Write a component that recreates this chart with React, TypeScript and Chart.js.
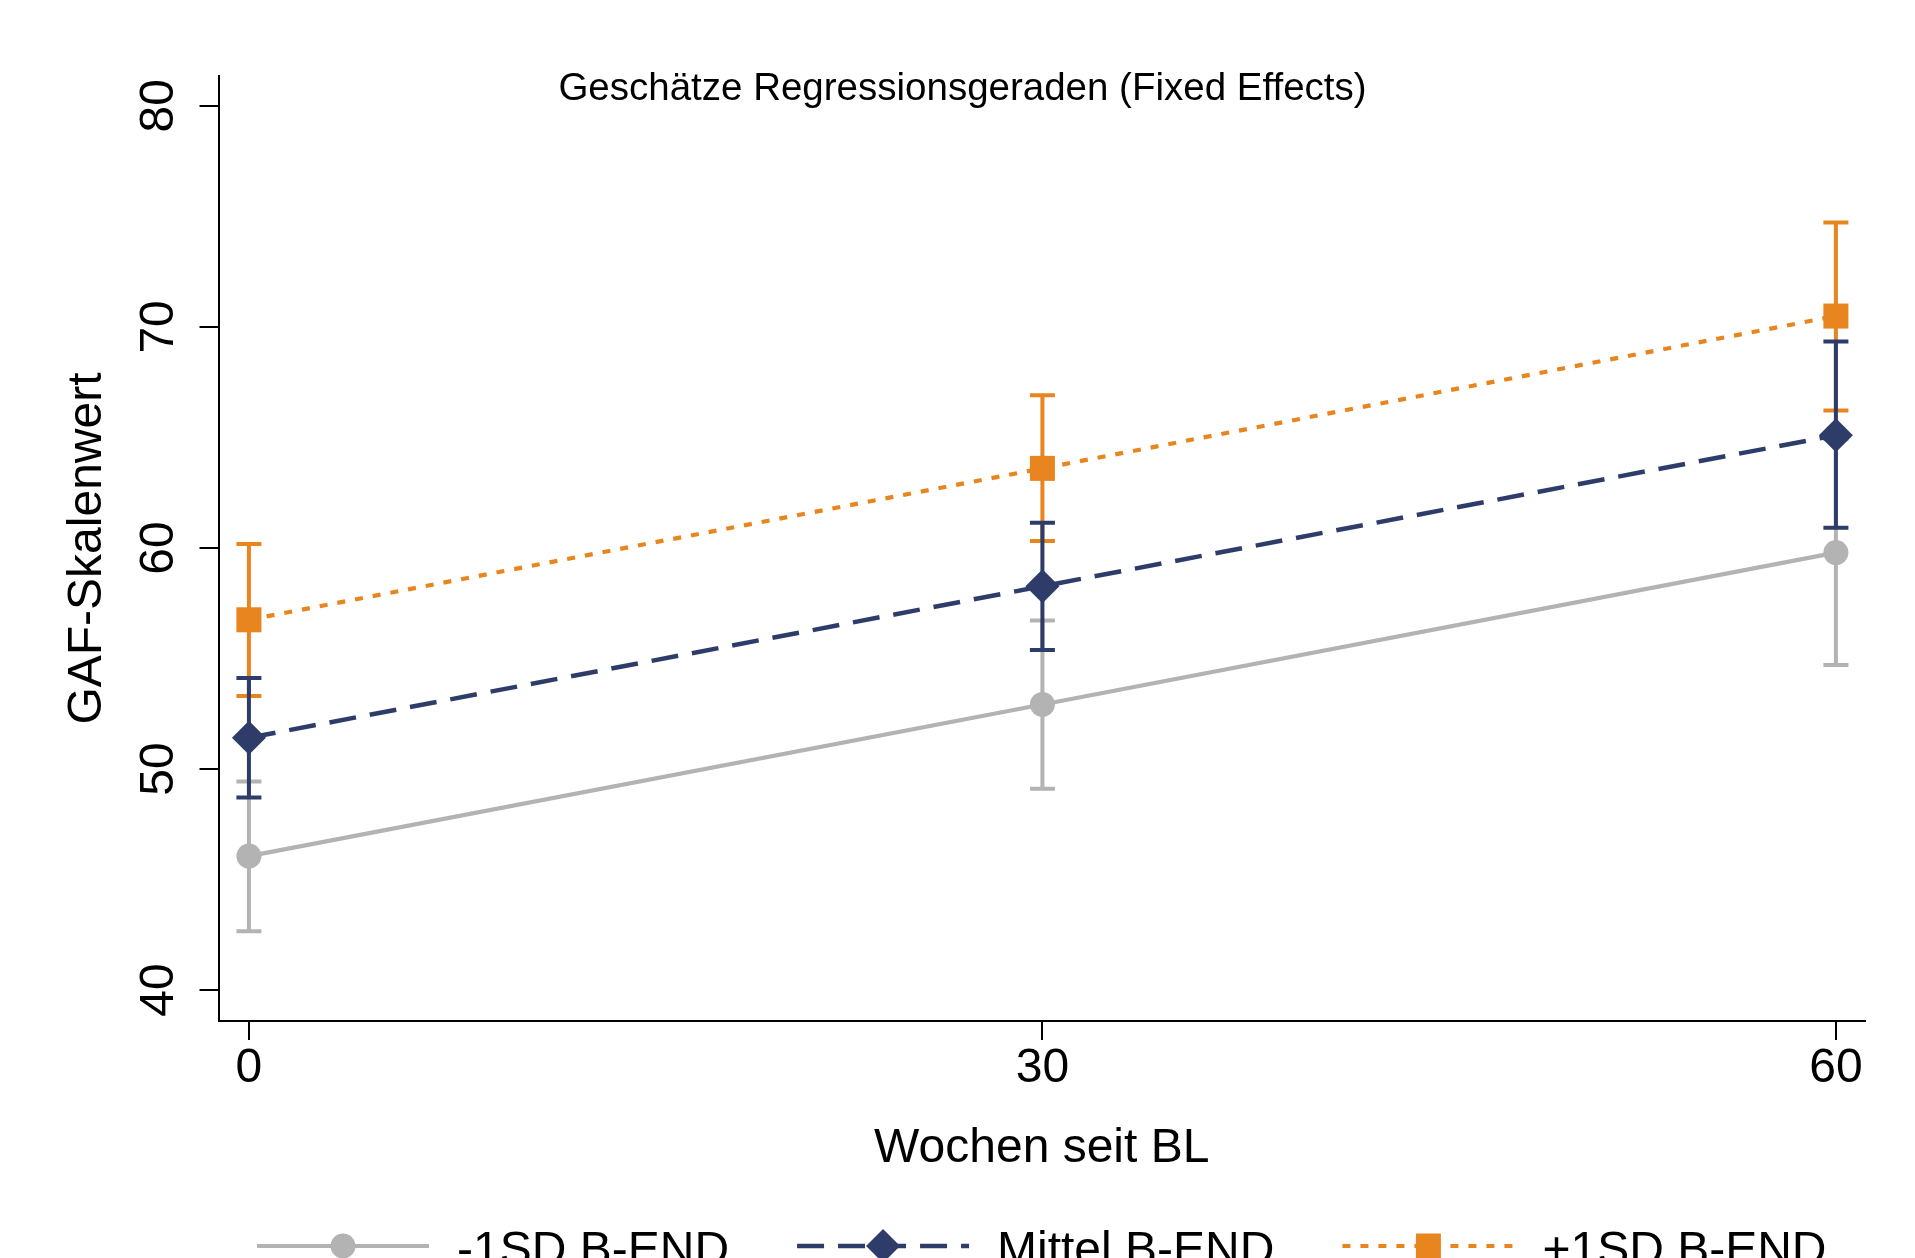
import React, { useEffect, useRef } from "react";
import { Chart, registerables } from "chart.js";

Chart.register(...registerables);

// ---- data ----
const weeks = [0, 30, 60];
const xTickValues = [0, 30, 60];
const yTickValues = [40, 50, 60, 70, 80];
const seriesLabels = ["-1SD B-END", "Mittel B-END", "+1SD B-END"];

const lowEst = [46.06, 52.92, 59.79];
const lowCiLower = [42.66, 49.11, 54.7];
const lowCiUpper = [49.44, 56.72, 64.92];

const midEst = [51.41, 58.27, 65.1];
const midCiLower = [48.71, 55.38, 60.91];
const midCiUpper = [54.12, 61.14, 69.34];

const highEst = [56.75, 63.6, 70.49];
const highCiLower = [53.3, 60.31, 66.22];
const highCiUpper = [60.18, 66.91, 74.72];

const chartTitle = "Geschätze Regressionsgeraden (Fixed Effects)";
const xAxisTitle = "Wochen seit BL";
const yAxisTitle = "GAF-Skalenwert";

// ---- styles ----
const FONT = "'Liberation Sans', Arial, Helvetica, sans-serif";
const GREY = "#b3b3b3";
const NAVY = "#2d3c69";
const ORANGE = "#e8851f";

const toPoints = (ys: number[]) => weeks.map((x, i) => ({ x, y: ys[i] }));

const errorBarPlugin = {
  id: "errorBars",
  beforeDatasetsDraw(chart: any) {
    const { ctx, scales } = chart;
    const xs = scales.x;
    const ys = scales.y;
    const order = [0, 2, 1];
    ctx.save();
    for (const di of order) {
      const ds = chart.data.datasets[di];
      ctx.strokeStyle = ds.borderColor;
      ctx.lineWidth = 4;
      ctx.setLineDash([]);
      ctx.lineCap = "butt";
      weeks.forEach((w, i) => {
        const px = xs.getPixelForValue(w);
        const lo = ys.getPixelForValue(ds.ciLower[i]);
        const hi = ys.getPixelForValue(ds.ciUpper[i]);
        ctx.beginPath();
        ctx.moveTo(px, lo);
        ctx.lineTo(px, hi);
        ctx.moveTo(px - 12.5, lo);
        ctx.lineTo(px + 12.5, lo);
        ctx.moveTo(px - 12.5, hi);
        ctx.lineTo(px + 12.5, hi);
        ctx.stroke();
      });
    }
    ctx.restore();
  },
};

const titlePlugin = {
  id: "topTitle",
  afterDraw(chart: any) {
    const { ctx } = chart;
    ctx.save();
    ctx.font = `38.5px ${FONT}`;
    ctx.fillStyle = "#000";
    ctx.textAlign = "center";
    ctx.textBaseline = "middle";
    ctx.fillText(chartTitle, chart.width / 2 + 5, 89.5);
    ctx.restore();
  },
};

function drawMarker(ctx: CanvasRenderingContext2D, style: string, x: number, y: number) {
  ctx.beginPath();
  if (style === "circle") {
    ctx.arc(x, y, 12.5, 0, Math.PI * 2);
  } else if (style === "rectRot") {
    const r = 17;
    ctx.moveTo(x - r, y);
    ctx.lineTo(x, y - r);
    ctx.lineTo(x + r, y);
    ctx.lineTo(x, y + r);
    ctx.closePath();
  } else {
    const h = 12.5;
    ctx.rect(x - h, y - h, 2 * h, 2 * h);
  }
  ctx.fill();
}

const legendPlugin = {
  id: "bottomLegend",
  afterDraw(chart: any) {
    const { ctx, chartArea } = chart;
    const sampleW = 172;
    const textGap = 28;
    const itemGap = 68;
    ctx.save();
    ctx.font = `48px ${FONT}`;
    const widths = seriesLabels.map((t) => ctx.measureText(t).width);
    const total = widths.reduce((a, b) => a + b, 0) + seriesLabels.length * (sampleW + textGap) + (seriesLabels.length - 1) * itemGap;
    let x = (chartArea.left + chartArea.right) / 2 - total / 2;
    const y = chartArea.bottom + 225;
    chart.data.datasets.forEach((ds: any, i: number) => {
      ctx.strokeStyle = ds.borderColor;
      ctx.fillStyle = ds.backgroundColor;
      ctx.lineWidth = ds.borderWidth;
      ctx.setLineDash(ds.borderDash || []);
      ctx.beginPath();
      ctx.moveTo(x, y);
      ctx.lineTo(x + sampleW, y);
      ctx.stroke();
      ctx.setLineDash([]);
      drawMarker(ctx, ds.pointStyle, x + sampleW / 2, y);
      ctx.fillStyle = "#000";
      ctx.textAlign = "left";
      ctx.textBaseline = "middle";
      ctx.fillText(seriesLabels[i], x + sampleW + textGap, y + 6);
      x += sampleW + textGap + widths[i] + itemGap;
    });
    ctx.restore();
  },
};

export default function App() {
  const canvasRef = useRef<HTMLCanvasElement | null>(null);

  useEffect(() => {
    if (!canvasRef.current) return;
    const chart = new Chart(canvasRef.current, {
      type: "line",
      data: {
        datasets: [
          {
            label: seriesLabels[0],
            data: toPoints(lowEst),
            ciLower: lowCiLower,
            ciUpper: lowCiUpper,
            borderColor: GREY,
            backgroundColor: GREY,
            borderWidth: 4.2,
            borderDash: [],
            pointStyle: "circle",
            pointRadius: 12.5,
            pointBorderWidth: 0,
            pointBackgroundColor: GREY,
            tension: 0,
          } as any,
          {
            label: seriesLabels[1],
            data: toPoints(midEst),
            ciLower: midCiLower,
            ciUpper: midCiUpper,
            borderColor: NAVY,
            backgroundColor: NAVY,
            borderWidth: 4.5,
            borderDash: [27, 14],
            pointStyle: "rectRot",
            pointRadius: 17,
            pointBorderWidth: 0,
            pointBackgroundColor: NAVY,
            tension: 0,
          } as any,
          {
            label: seriesLabels[2],
            data: toPoints(highEst),
            ciLower: highCiLower,
            ciUpper: highCiUpper,
            borderColor: ORANGE,
            backgroundColor: ORANGE,
            borderWidth: 4.2,
            borderDash: [8, 10],
            pointStyle: "rect",
            pointRadius: 17.7,
            pointBorderWidth: 0,
            pointBackgroundColor: ORANGE,
            tension: 0,
          } as any,
        ],
      },
      options: {
        animation: false,
        responsive: true,
        maintainAspectRatio: false,
        clip: false as any,
        layout: { padding: { left: 40, right: 50, top: 76, bottom: 80 } },
        plugins: {
          legend: { display: false },
          title: { display: false },
          tooltip: { enabled: false },
        },
        scales: {
          x: {
            type: "linear",
            min: -1.15,
            max: 61.1,
            afterBuildTicks: (s: any) => {
              s.ticks = xTickValues.map((v) => ({ value: v }));
            },
            afterFit: (s: any) => {
              s.height = 157;
            },
            ticks: {
              font: { size: 48, family: FONT },
              color: "#000",
              padding: 0,
              maxRotation: 0,
              autoSkip: false,
              callback: (v: any) => String(v),
            },
            grid: {
              display: true,
              drawOnChartArea: false,
              drawTicks: true,
              tickLength: 19,
              color: "#000",
              tickColor: "#000",
              lineWidth: 2,
              tickWidth: 2,
            },
            border: { display: true, color: "#000", width: 2 },
            title: {
              display: true,
              text: xAxisTitle,
              font: { size: 48, family: FONT },
              color: "#000",
              padding: { top: 0, bottom: 0 },
            },
          },
          y: {
            type: "linear",
            min: 38.6,
            max: 81.35,
            afterBuildTicks: (s: any) => {
              s.ticks = yTickValues.map((v) => ({ value: v }));
            },
            afterFit: (s: any) => {
              s.width = 178.5;
            },
            ticks: {
              font: { size: 48, family: FONT },
              color: "#000",
              padding: 13,
              minRotation: 90,
              maxRotation: 90,
              crossAlign: "center",
              autoSkip: false,
              callback: (v: any) => String(v),
            },
            grid: {
              display: true,
              drawOnChartArea: false,
              drawTicks: true,
              tickLength: 19,
              color: "#000",
              tickColor: "#000",
              lineWidth: 2,
              tickWidth: 2,
            },
            border: { display: true, color: "#000", width: 2 },
            title: {
              display: true,
              text: yAxisTitle,
              font: { size: 48, family: FONT },
              color: "#000",
              padding: { top: 19, bottom: 0 },
            },
          },
        },
      } as any,
      plugins: [errorBarPlugin, titlePlugin, legendPlugin],
    });
    return () => chart.destroy();
  }, []);

  return (
    <div style={{ position: "absolute", left: 0, top: 0, width: 1915, height: 1258, background: "#fff" }}>
      <canvas ref={canvasRef} />
    </div>
  );
}
